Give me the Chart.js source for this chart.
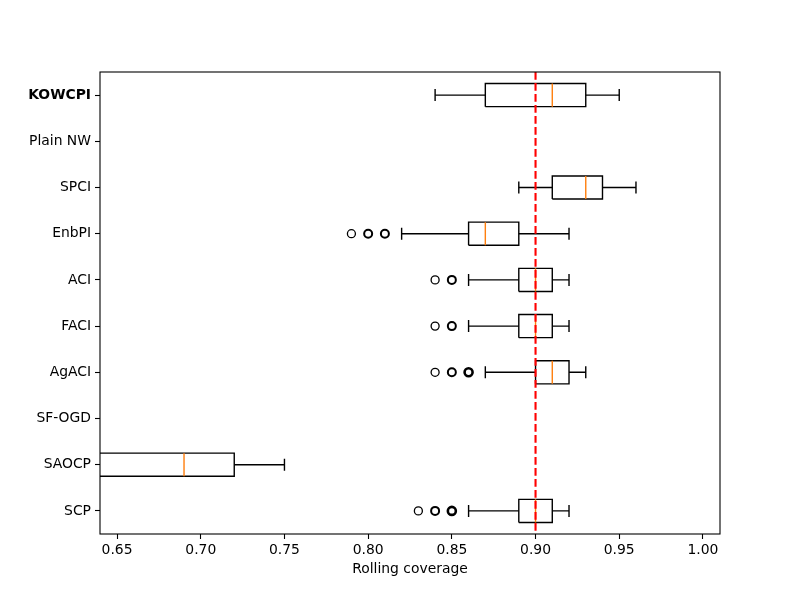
<!DOCTYPE html>
<html>
<head>
<meta charset="utf-8">
<script src="https://cdn.jsdelivr.net/npm/chart.js@4.4.1/dist/chart.umd.min.js"></script>
<style>
  html, body { margin: 0; padding: 0; background: #ffffff; }
  #wrap { width: 800px; height: 600px; }
</style>
</head>
<body>
<div id="wrap"><canvas id="c" width="800" height="600"></canvas></div>
<script>
// ---- Data (top to bottom) ----
const categories  = ['KOWCPI', 'Plain NW', 'SPCI', 'EnbPI', 'ACI', 'FACI', 'AgACI', 'SF-OGD', 'SAOCP', 'SCP'];
const whiskerLow  = [0.84, null, 0.89, 0.82, 0.86, 0.86, 0.87, null, 0.58, 0.86];
const quartile1   = [0.87, null, 0.91, 0.86, 0.89, 0.89, 0.90, null, 0.62, 0.89];
const medians     = [0.91, null, 0.93, 0.87, 0.90, 0.90, 0.91, null, 0.69, 0.90];
const quartile3   = [0.93, null, 0.94, 0.89, 0.91, 0.91, 0.92, null, 0.72, 0.91];
const whiskerHigh = [0.95, null, 0.96, 0.92, 0.92, 0.92, 0.93, null, 0.75, 0.92];
const outliers    = [
  [], [], [],
  [0.79, 0.80, 0.80, 0.81, 0.81],
  [0.84, 0.85, 0.85],
  [0.84, 0.85, 0.85],
  [0.84, 0.85, 0.85, 0.86, 0.86, 0.86],
  [], [],
  [0.83, 0.84, 0.84, 0.85, 0.85, 0.85]
];
const targetCoverage = 0.90;
const xTicks = [0.65, 0.70, 0.75, 0.80, 0.85, 0.90, 0.95, 1.00];
const xMin = 0.6398, xMax = 1.0102;
const xTitle = 'Rolling coverage';
const boldLabel = 'KOWCPI';

// ---- Build datasets from data ----
const n = categories.length;
const posOf = i => n - i;            // KOWCPI at top
const BREAK = {x: null, y: null};
const HALF_BOX = 0.25, HALF_CAP = 0.13;

const boxPts = [], whiskPts = [], capPts = [], medPts = [], outPts = [], outWidths = [];
categories.forEach((c, i) => {
  if (medians[i] === null) return;
  const y = posOf(i);
  const a = quartile1[i], b = quartile3[i];
  boxPts.push({x:a,y:y-HALF_BOX},{x:b,y:y-HALF_BOX},{x:b,y:y+HALF_BOX},{x:a,y:y+HALF_BOX},{x:a,y:y-HALF_BOX}, BREAK);
  whiskPts.push({x:whiskerLow[i],y:y},{x:a,y:y}, BREAK, {x:b,y:y},{x:whiskerHigh[i],y:y}, BREAK);
  capPts.push({x:whiskerLow[i],y:y-HALF_CAP},{x:whiskerLow[i],y:y+HALF_CAP}, BREAK,
              {x:whiskerHigh[i],y:y-HALF_CAP},{x:whiskerHigh[i],y:y+HALF_CAP}, BREAK);
  medPts.push({x:medians[i],y:y-HALF_BOX},{x:medians[i],y:y+HALF_BOX}, BREAK);
  const counts = {};
  outliers[i].forEach(v => { counts[v] = (counts[v] || 0) + 1; });
  Object.keys(counts).forEach(k => {
    outPts.push({x: parseFloat(k), y: y});
    const m = counts[k];
    outWidths.push(m >= 3 ? 2.6 : (m === 2 ? 2.0 : 1.3));
  });
});

const lineDs = (label, data, color, width, order, extra) => Object.assign({
  label, data, showLine: true, borderColor: color, borderWidth: width,
  pointRadius: 0, pointHoverRadius: 0, fill: false, spanGaps: false, order,
  borderCapStyle: 'butt', borderJoinStyle: 'miter'
}, extra || {});

const frame = {
  id: 'frame',
  afterDatasetsDraw(chart) {
    const {ctx, chartArea: a} = chart;
    ctx.save();
    ctx.strokeStyle = '#000';
    ctx.lineWidth = 1.1;
    ctx.strokeRect(a.left, a.top, a.right - a.left, a.bottom - a.top);
    ctx.restore();
  }
};
const whiteBg = {
  id: 'whiteBg',
  beforeDraw(chart) {
    const {ctx, width, height} = chart;
    ctx.save(); ctx.fillStyle = '#fff'; ctx.fillRect(0, 0, width, height); ctx.restore();
  }
};

const FONT = 'DejaVu Sans';
new Chart(document.getElementById('c'), {
  type: 'scatter',
  data: {
    datasets: [
      lineDs('target', [{x:targetCoverage,y:10.5},{x:targetCoverage,y:0.5}], '#ff0000', 2.1, 0, {borderDash: [7.7, 3.3]}),
      {
        label: 'outliers', data: outPts, showLine: false, order: 1,
        pointStyle: 'circle', pointRadius: 4, pointHoverRadius: 4,
        pointBackgroundColor: 'rgba(0,0,0,0)', pointBorderColor: '#000',
        pointBorderWidth: outWidths
      },
      lineDs('medians', medPts, '#ff7f0e', 1.4, 2),
      lineDs('boxes', boxPts, '#000', 1.4, 3),
      lineDs('whiskers', whiskPts, '#000', 1.4, 4),
      lineDs('caps', capPts, '#000', 1.4, 4)
    ]
  },
  options: {
    responsive: false,
    animation: false,
    devicePixelRatio: 1,
    layout: { padding: { top: 72, right: 80, left: 0, bottom: 0 } },
    plugins: { legend: { display: false }, tooltip: { enabled: false } },
    scales: {
      x: {
        type: 'linear', min: xMin, max: xMax,
        afterBuildTicks: s => { s.ticks = xTicks.map(v => ({value: v})); },
        afterFit: s => { s.height = 66; },
        grid: { display: true, drawOnChartArea: false, drawTicks: true, tickLength: 5, tickColor: '#000', tickWidth: 1.1 },
        border: { display: false },
        ticks: { color: '#000', font: { family: FONT, size: 13.9 }, padding: 3, maxRotation: 0,
                 callback: v => v.toFixed(2) },
        title: { display: true, text: xTitle, color: '#000', font: { family: FONT, size: 13.9 },
                 padding: { top: 0, bottom: 22 } }
      },
      y: {
        type: 'linear', min: 0.5, max: 10.5,
        afterBuildTicks: s => { s.ticks = categories.map((c, i) => ({value: posOf(i)})); },
        afterFit: s => { s.width = 100; },
        grid: { display: true, drawOnChartArea: false, drawTicks: true, tickLength: 5, tickColor: '#000', tickWidth: 1.1 },
        border: { display: false },
        ticks: {
          color: '#000', padding: 4,
          callback: v => categories[n - v],
          font: ctx => ({ family: FONT, size: 13.9,
                          weight: (ctx.tick && categories[n - ctx.tick.value] === boldLabel) ? 'bold' : 'normal' })
        }
      }
    }
  },
  plugins: [whiteBg, frame]
});
</script>
</body>
</html>
